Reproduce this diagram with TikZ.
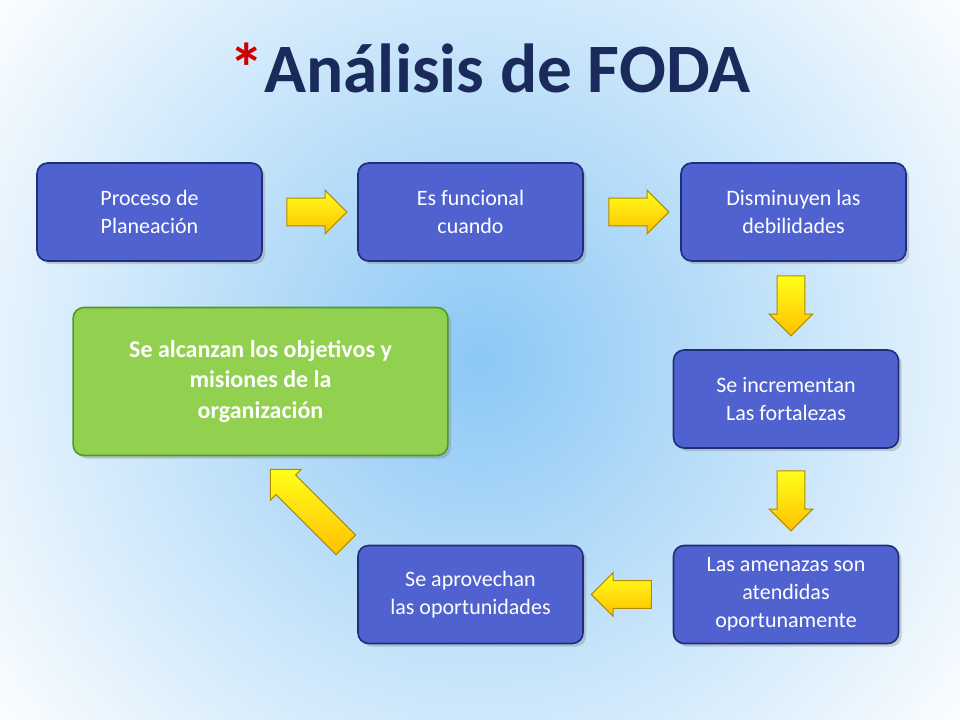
\documentclass[tikz,border=0pt]{standalone}
\usepackage{fontspec}
\setmainfont{Carlito}
\usetikzlibrary{shapes.arrows,shadows,calc}
\definecolor{boxblue}{HTML}{4F62D0}
\definecolor{boxedge}{HTML}{1F2E78}
\definecolor{gr}{HTML}{92D050}
\definecolor{grEdge}{HTML}{4E9A2A}
\definecolor{arr}{HTML}{FFC000}
\definecolor{arrEdge}{HTML}{B08A00}
\definecolor{navy}{HTML}{1A2A5A}
\begin{document}
\begin{tikzpicture}[x=0.75pt,y=-0.75pt,
  bx/.style={draw=boxedge,line width=1.2pt,fill=boxblue,rounded corners=8pt,
    minimum width=168.75pt,minimum height=73.5pt,align=center,text=white,
    font=\fontsize{16.5}{21}\selectfont,drop shadow={opacity=0.35}},
  ar/.style={single arrow,draw=arrEdge,line width=0.8pt,
    top color=yellow!90!white,bottom color=arr,
    single arrow head extend=6pt,minimum height=45pt,inner sep=10pt}]
\begin{scope}
\clip (0,0) rectangle (960,720);
\shade[inner color={rgb,255:red,140;green,200;blue,245},outer color=white] (480,360) circle (620);
\end{scope}
\path[use as bounding box] (0,0) rectangle (960,720);
\node (title) at (490,68) {\fontsize{52}{58}\selectfont\bfseries\color{navy}{\color{red!80!black}*}Análisis de FODA};
\node[bx] (b1) at (149.5,212) {Proceso de\\Planeación};
\node[bx] (b2) at (470.5,212) {Es funcional\\cuando};
\node[bx] (b3) at (793.5,212) {Disminuyen las\\debilidades};
\node[bx] (b4) at (786,399) {Se incrementan\\Las fortalezas};
\node[bx] (b5) at (786,594.5) {Las amenazas son\\atendidas\\oportunamente};
\node[bx] (b6) at (470.5,594.5) {Se aprovechan\\las oportunidades};
\node[bx,draw=grEdge,fill=gr,minimum width=281pt,minimum height=111pt,
  font=\fontsize{18}{23}\selectfont\bfseries] (g) at (260.5,381.5)
  {Se alcanzan los objetivos y\\misiones de la\\organización};
\node[ar] (a1) at ($(b1.east)!0.5!(b2.west)$) {};
\node[ar] (a2) at ($(b2.east)!0.5!(b3.west)$) {};
\node[ar,rotate=-90] (a3) at (791,299) {};
\node[ar,rotate=-90] (a4) at (791,494) {};
\node[ar,rotate=180] (a5) at ($(b5.west)!0.5!(b6.east)$) {};
\node[ar,rotate=135,minimum height=80pt] (a6) at (313,512) {};
\end{tikzpicture}
\end{document}
